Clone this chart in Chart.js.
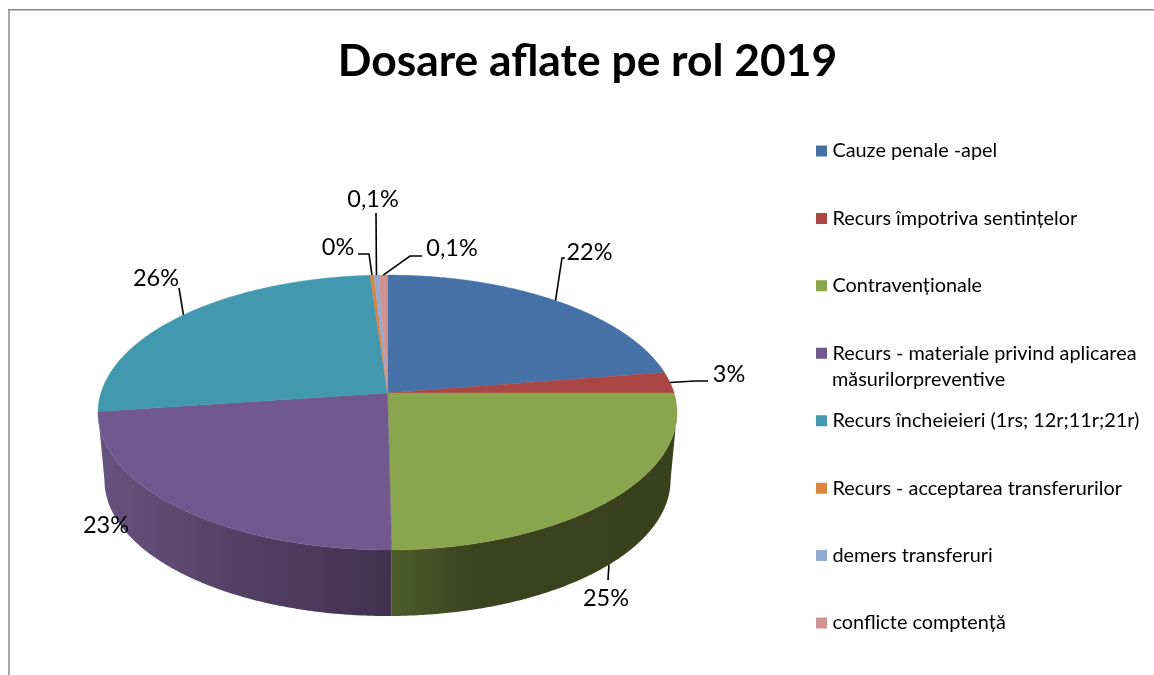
<!DOCTYPE html>
<html><head><meta charset="utf-8">
<script src="https://cdn.jsdelivr.net/npm/chart.js@4/dist/chart.umd.min.js"></script>
<style>html,body{margin:0;padding:0;background:#fff;overflow:hidden}canvas{display:block}</style>
</head><body><canvas id="c" width="1154" height="675"></canvas>
<script>
const chartTitle = "Dosare aflate pe rol 2019";
const categories = ["Cauze penale -apel","Recurs împotriva sentințelor","Contravenționale","Recurs - materiale privind aplicarea","Recurs încheieieri (1rs; 12r;11r;21r)","Recurs - acceptarea transferurilor","demers transferuri","conflicte comptență"];
const legendSecondLine = "măsurilorpreventive";
const sliceValues = [22.5,2.5,24.8,23.05,26.04,0.25,0.32,0.54];
const valueLabels = ["22%","3%","25%","23%","26%","0%","0,1%","0,1%"];
const sliceColours = ["#4571A7","#AA4644","#89A54E","#71588F","#4298AF","#DB843D","#93A9CF","#D19392"];
const wallStops = [null,null,[[0,"#4F5C2C"],[0.3,"#3A421E"],[1,"#38401C"]],[[0,"#66527E"],[0.4,"#574268"],[1,"#42304F"]],null,null,null,null];

const FONT = "Lato";
const top3D = {cx:387.5, cy:393, rx:286.6, ry:134.7};
const bottom3D = {cx:387.5, cy:460.7, rx:280.2, ry:133.3};
const K = 0.1418;
function proj(a, level, r){
  const u = Math.cos(a)*(r===undefined?1:r), v = Math.sin(a)*(r===undefined?1:r), w = 1 - K*v;
  return {x: level.cx + level.rx*u/w, y: level.cy + level.ry*v/w};
}
function rim(ctx, a0, a1, level, move){
  const n = Math.max(2, Math.ceil(Math.abs(a1-a0)/0.008));
  for(let i=0;i<=n;i++){
    const p = proj(a0+(a1-a0)*i/n, level);
    if(i===0 && move) ctx.moveTo(p.x,p.y); else ctx.lineTo(p.x,p.y);
  }
}
const labelLayout = [
  {rim:"top",    at:[589.5,252], path:[[562,258],[565,258]]},
  {rim:"top",    at:[729,374], path:[[695,381],[708,381]]},
  {rim:"bottom", at:[606,598], path:[[608,580]]},
  {rim:null,     at:[106,525], path:[]},
  {rim:"top",    at:[156,278], path:[[179,288]]},
  {rim:"top",    at:[338,247], path:[[369,254],[358,254]]},
  {rim:"top",    at:[373,199], path:[[376,213]]},
  {rim:"top",    at:[452,248], path:[[410,256],[422,256]]}
];
const pie3D = {
  id:"pie3D",
  beforeDraw(chart){
    const c = chart.ctx; c.save();
    c.fillStyle="#fff"; c.fillRect(0,0,chart.width,chart.height);
    c.fillStyle="#A6A6A6"; c.fillRect(8,9,2,chart.height-9);
    c.fillStyle="#868686"; c.fillRect(8,9,chart.width-8,1.5);
    c.restore();
  },
  afterLayout(chart){
    const t = chart.titleBlock; t.left = 21; t.right = chart.width; t.top = 35; t.bottom = 95;
    const l = chart.legend;
    l.left = 816 + 4.5 - l.options.labels.padding; l.right = 1154; l.bottom = 740;
    l.top = 151 - l.options.labels.font.size/2 - l.options.labels.padding;
  },
  beforeDatasetsDraw(chart){
    const c = chart.ctx, arcs = chart.getDatasetMeta(0).data;
    const edge = Math.asin(K);
    c.save();
    c.lineJoin="round";
    arcs.forEach((arc,i)=>{
      if(!wallStops[i]) return;
      const a0=Math.max(arc.startAngle,edge),a1=Math.min(arc.endAngle,Math.PI-edge);
      let lo=1e9,hi=-1e9;
      for(let k=0;k<=40;k++){const p=proj(a0+(a1-a0)*k/40,bottom3D);lo=Math.min(lo,p.x);hi=Math.max(hi,p.x);}
      const g=c.createLinearGradient(lo,0,hi,0);
      wallStops[i].forEach(s=>g.addColorStop(s[0],s[1]));
      c.beginPath();
      rim(c,a0,a1,top3D,true);
      rim(c,a1,a0,bottom3D,false);
      c.closePath();
      c.fillStyle=g; c.fill();
    });
    arcs.forEach((arc,i)=>{
      c.beginPath();
      const apex=proj(0,top3D,0);
      c.moveTo(apex.x,apex.y);
      rim(c,arc.startAngle,arc.endAngle,top3D,false);
      c.closePath();
      c.fillStyle=sliceColours[i]; c.fill();
      c.strokeStyle=sliceColours[i]; c.lineWidth=0.4; c.stroke();
    });
    c.strokeStyle="#000"; c.lineWidth=1.6; c.lineJoin="miter";
    arcs.forEach((arc,i)=>{
      const L=labelLayout[i];
      if(L.rim){
        const m=(arc.startAngle+arc.endAngle)/2;
        const p=proj(m,L.rim==="top"?top3D:bottom3D);
        c.beginPath(); c.moveTo(p.x,p.y);
        L.path.forEach(q=>c.lineTo(q[0],q[1]));
        c.stroke();
      }
    });
    c.fillStyle="#000"; c.font="23.5px "+FONT; c.textAlign="center"; c.textBaseline="middle";
    arcs.forEach((arc,i)=>{const L=labelLayout[i]; c.fillText(valueLabels[i],L.at[0],L.at[1]);});
    c.restore();
    return false;
  },
  afterDraw(chart){
    const c=chart.ctx,l=chart.legend,f=l.options.labels.font;
    c.save(); c.fillStyle="#000"; c.font=f.size+"px "+FONT; c.textBaseline="middle"; c.textAlign="left";
    c.fillText(legendSecondLine,832,380);
    c.restore();
  }
};
new Chart(document.getElementById("c"),{
  type:"pie",
  data:{labels:categories,datasets:[{data:sliceValues,backgroundColor:sliceColours,borderWidth:0}]},
  options:{
    responsive:false,animation:false,
    layout:{padding:0},
    plugins:{
      title:{display:true,text:chartTitle,color:"#000",font:{family:FONT,size:44.4,weight:"bold"},padding:0},
      tooltip:{enabled:false},
      legend:{
        display:true,position:"right",align:"start",
        labels:{
          color:"#000",font:{family:FONT,size:19.85},boxWidth:2,boxHeight:2,padding:47.58,
          generateLabels(chart){
            return chart.data.labels.map((t,i)=>({text:t,fillStyle:sliceColours[i],strokeStyle:sliceColours[i],lineWidth:9,fontColor:"#000",index:i,hidden:false}));
          }
        }
      }
    }
  },
  plugins:[pie3D]
});
</script></body></html>
